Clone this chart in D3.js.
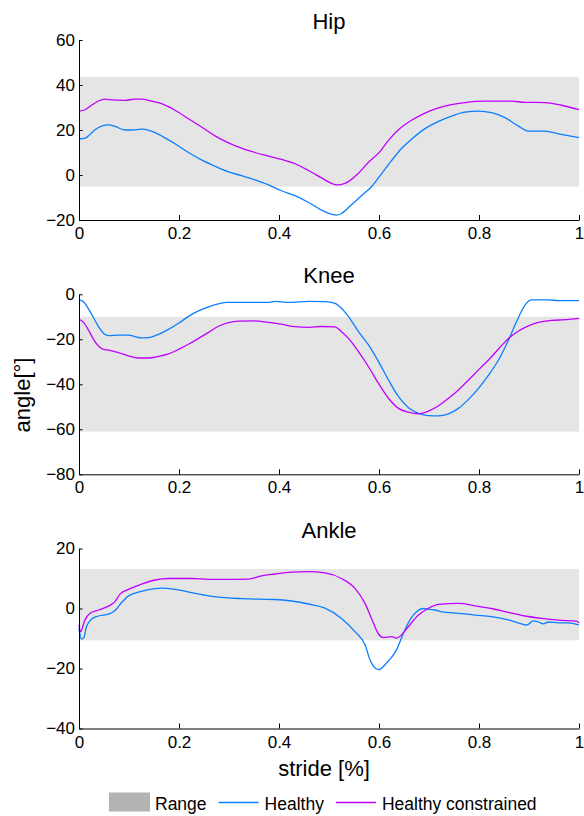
<!DOCTYPE html>
<html>
<head>
<meta charset="utf-8">
<script src="https://cdn.jsdelivr.net/npm/d3@7"></script>
<style>
    body { margin: 0; background: #fff; }
    text { font-family: "Liberation Sans", Arial, sans-serif; fill: #000; }
</style>
</head>
<body>
<div id="viz"></div>
<script>
//Data
var joints = ["Hip", "Knee", "Ankle"];
var xTicks = [0, 0.2, 0.4, 0.6, 0.8, 1];
var yDomains = [[-20, 60], [-80, 0], [-40, 20]];
var yTicks = [[-20, 0, 20, 40, 60], [-80, -60, -40, -20, 0], [-40, -20, 0, 20]];
var ranges = [[-5.2, 43.5], [-61, -10], [-10.6, 13.2]];   //grey "Range" band per joint
var seriesNames = ["Range", "Healthy", "Healthy constrained"];

//[stride, angle] pairs
var hipHealthy = [[0,16.0],[0.012,16.4],[0.022,18.0],[0.032,20.1],[0.045,21.7],[0.059,22.3],[0.072,21.6],
    [0.092,20.0],[0.112,20.1],[0.129,20.4],[0.145,19.5],[0.165,17.4],[0.192,13.9],[0.219,10.0],[0.245,6.7],
    [0.272,3.9],[0.299,1.4],[0.325,-0.3],[0.352,-2.2],[0.379,-4.4],[0.405,-7.0],[0.432,-9.2],[0.459,-12.2],
    [0.485,-15.6],[0.505,-17.4],[0.515,-17.8],[0.525,-17.1],[0.545,-13.2],[0.565,-9.2],[0.585,-5.2],
    [0.605,0.5],[0.625,6.4],[0.645,11.8],[0.665,15.9],[0.692,20.6],[0.719,23.8],[0.745,26.2],[0.772,27.9],
    [0.799,28.4],[0.825,27.7],[0.852,25.5],[0.879,21.7],[0.899,19.5],[0.932,19.5],[0.959,18.3],[1,16.6]];
var hipConstrained = [[0,28.4],[0.012,29.0],[0.025,31.0],[0.039,32.9],[0.052,33.7],[0.065,33.4],[0.092,33.2],
    [0.112,33.7],[0.125,33.7],[0.145,32.8],[0.165,31.7],[0.192,28.8],[0.219,25.0],[0.245,21.3],[0.272,17.4],
    [0.299,14.3],[0.325,11.9],[0.352,10.0],[0.379,8.4],[0.405,6.9],[0.432,5.0],[0.459,2.0],[0.485,-1.3],
    [0.5,-3.2],[0.515,-4.4],[0.532,-3.7],[0.559,0.8],[0.579,5.7],[0.599,9.7],[0.619,15.4],[0.639,20.1],
    [0.665,24.3],[0.692,27.5],[0.719,29.8],[0.745,31.3],[0.772,32.2],[0.812,32.8],[0.865,32.8],[0.892,32.3],
    [0.932,32.2],[0.965,31.0],[1,29.0]];
var kneeHealthy = [[0,-2.5],[0.009,-3.3],[0.019,-6.5],[0.029,-10.4],[0.039,-14.4],[0.049,-17.3],[0.059,-18.4],
    [0.079,-18.1],[0.099,-18.1],[0.112,-18.8],[0.125,-19.4],[0.139,-19.3],[0.159,-17.8],[0.179,-15.6],
    [0.199,-12.9],[0.219,-9.8],[0.239,-7.4],[0.259,-5.6],[0.279,-4.3],[0.295,-3.6],[0.325,-3.6],[0.379,-3.6],
    [0.392,-3.1],[0.419,-3.6],[0.459,-3.1],[0.492,-3.3],[0.512,-4.0],[0.525,-6.2],[0.539,-9.9],[0.559,-16.6],
    [0.579,-22.5],[0.599,-29.9],[0.619,-38.1],[0.639,-45.5],[0.659,-50.4],[0.679,-52.9],[0.699,-53.9],
    [0.719,-54.0],[0.739,-53.1],[0.759,-50.7],[0.779,-46.7],[0.799,-41.8],[0.819,-35.9],[0.839,-29.2],
    [0.859,-20.3],[0.875,-12.2],[0.892,-4.8],[0.905,-2.5],[0.939,-2.5],[0.959,-2.8],[1,-2.8]];
var kneeConstrained = [[0,-11.1],[0.009,-12.5],[0.019,-15.9],[0.029,-20.0],[0.039,-23.0],[0.049,-24.5],
    [0.059,-24.8],[0.079,-25.9],[0.099,-27.4],[0.119,-28.3],[0.139,-28.3],[0.159,-27.6],[0.179,-26.5],
    [0.199,-24.5],[0.219,-22.2],[0.239,-19.6],[0.259,-16.9],[0.279,-14.2],[0.299,-12.6],[0.319,-11.9],
    [0.352,-11.8],[0.379,-12.5],[0.405,-13.3],[0.432,-14.4],[0.459,-14.7],[0.485,-14.3],[0.512,-14.5],
    [0.525,-16.6],[0.539,-19.6],[0.559,-25.5],[0.579,-32.2],[0.599,-39.6],[0.619,-46.2],[0.639,-50.7],
    [0.659,-52.4],[0.679,-53.1],[0.699,-51.9],[0.719,-49.5],[0.739,-46.2],[0.759,-42.5],[0.779,-38.1],
    [0.799,-33.6],[0.819,-29.2],[0.839,-24.3],[0.859,-19.6],[0.879,-16.3],[0.899,-14.0],[0.919,-12.5],
    [0.945,-11.6],[0.972,-11.3],[1,-10.7]];
var ankleHealthy = [[0,-6.6],[0.005,-10.2],[0.010,-9.6],[0.015,-6.0],[0.025,-3.6],[0.039,-2.5],[0.059,-1.9],
    [0.072,-0.7],[0.085,1.9],[0.099,4.2],[0.125,5.7],[0.152,6.6],[0.165,6.8],[0.192,6.4],[0.225,5.3],
    [0.259,4.2],[0.292,3.6],[0.325,3.3],[0.359,3.1],[0.392,3.0],[0.425,2.5],[0.459,1.5],[0.492,0.1],
    [0.525,-3.3],[0.552,-7.7],[0.572,-12.1],[0.582,-17.1],[0.589,-19.3],[0.599,-20.4],[0.615,-18.2],
    [0.635,-13.8],[0.649,-8.2],[0.662,-3.8],[0.675,-1.1],[0.689,0],[0.702,-0.3],[0.712,-0.5],[0.725,-1.1],
    [0.759,-1.6],[0.792,-2.2],[0.825,-2.7],[0.859,-3.8],[0.885,-5.1],[0.895,-5.5],[0.909,-4.1],[0.919,-4.5],
    [0.929,-5.1],[0.939,-4.5],[0.959,-4.8],[0.979,-4.8],[1,-5.5]];
var ankleConstrained = [[0,-5.5],[0.003,-7.7],[0.012,-3.8],[0.022,-1.6],[0.039,-0.5],[0.059,0.8],[0.072,2.3],
    [0.082,4.8],[0.099,6.4],[0.125,8.1],[0.152,9.5],[0.179,10.0],[0.225,10.0],[0.259,9.7],[0.292,9.7],
    [0.339,9.8],[0.365,10.9],[0.392,11.5],[0.425,12.1],[0.459,12.3],[0.492,11.9],[0.525,10.0],[0.552,6.7],
    [0.572,1.7],[0.585,-3.3],[0.599,-8.5],[0.609,-9.7],[0.625,-9.4],[0.635,-9.9],[0.645,-8.8],[0.659,-6.0],
    [0.679,-2.2],[0.699,0.1],[0.719,1.4],[0.759,1.7],[0.792,0.9],[0.825,0],[0.859,-1.3],[0.892,-2.5],
    [0.925,-3.3],[0.959,-3.9],[0.995,-4.2],[1,-4.8]];

var healthy = [hipHealthy, kneeHealthy, ankleHealthy];
var constrained = [hipConstrained, kneeConstrained, ankleConstrained];

//Layout
var width = 584, height = 816;
var left = 79, right = 579;
var panelTops = [40, 294.3, 548.5];
var panelHeight = 180;
var blue = "#0a7fff", magenta = "#c000ff", bandColor = "#e5e5e5";

var svg = d3.select("#viz").append("svg")
    .attr("width", width)
    .attr("height", height);

var x = d3.scaleLinear().domain([0, 1]).range([left, right]);

joints.forEach(function(name, i) {
    var top = panelTops[i];
    var y = d3.scaleLinear().domain(yDomains[i]).range([top + panelHeight, top]);
    var g = svg.append("g");

    //Range band
    g.append("rect")
        .attr("x", x(0) + 1)
        .attr("width", x(1) - x(0) - 1)
        .attr("y", y(ranges[i][1]))
        .attr("height", y(ranges[i][0]) - y(ranges[i][1]))
        .attr("fill", bandColor);

    var line = d3.line()
        .x(function(d) { return x(d[0]); })
        .y(function(d) { return y(d[1]); })
        .curve(d3.curveMonotoneX);

    g.append("path").datum(healthy[i])
        .attr("d", line).attr("fill", "none")
        .attr("stroke", blue).attr("stroke-width", 1.3);
    g.append("path").datum(constrained[i])
        .attr("d", line).attr("fill", "none")
        .attr("stroke", magenta).attr("stroke-width", 1.3);

    //Axes (MATLAB style: ticks inside, no box)
    var yAxis = d3.axisLeft(y).tickValues(yTicks[i])
        .tickFormat(function(d) { return d < 0 ? "\u2212" + Math.abs(d) : d; })
        .tickSizeInner(-3.5).tickSizeOuter(0).tickPadding(4);
    var xAxis = d3.axisBottom(x).tickValues(xTicks)
        .tickFormat(d3.format("~g"))
        .tickSizeInner(-5).tickSizeOuter(0).tickPadding(7);

    var ya = g.append("g").attr("transform", "translate(" + left + ",0)").call(yAxis);
    var xa = g.append("g").attr("transform", "translate(0," + (top + panelHeight) + ")").call(xAxis);
    [ya, xa].forEach(function(a) {
        a.attr("font-family", null).attr("font-size", null);
        a.selectAll("text").style("font-size", "17px");
        a.selectAll("line, path").attr("stroke", "#000");
    });

    //Title
    g.append("text")
        .attr("x", (left + right) / 2)
        .attr("y", top - 11)
        .attr("text-anchor", "middle")
        .style("font-size", "22px")
        .text(name);
});

//Axis labels
svg.append("text")
    .attr("transform", "translate(30,395) rotate(-90)")
    .attr("text-anchor", "middle")
    .style("font-size", "22px")
    .text("angle[\u00b0]");

svg.append("text")
    .attr("x", 324)
    .attr("y", 776)
    .attr("text-anchor", "middle")
    .style("font-size", "22px")
    .text("stride [%]");

//Legend
var legend = svg.append("g");
var lx = 109, ly = 802.5;
seriesNames.forEach(function(s, i) {
    if (i === 0) {
        legend.append("rect").attr("x", lx).attr("y", ly - 10).attr("width", 41).attr("height", 19)
            .attr("fill", "#b3b3b3");
    } else {
        legend.append("line").attr("x1", lx).attr("x2", lx + 40).attr("y1", ly).attr("y2", ly)
            .attr("stroke", i === 1 ? blue : magenta).attr("stroke-width", 1.3);
    }
    lx += 46;
    var t = legend.append("text").attr("x", lx).attr("y", ly + 7)
        .style("font-size", "17.5px").text(s);
    lx += t.node().getComputedTextLength() + 12;
});
</script>
</body>
</html>
